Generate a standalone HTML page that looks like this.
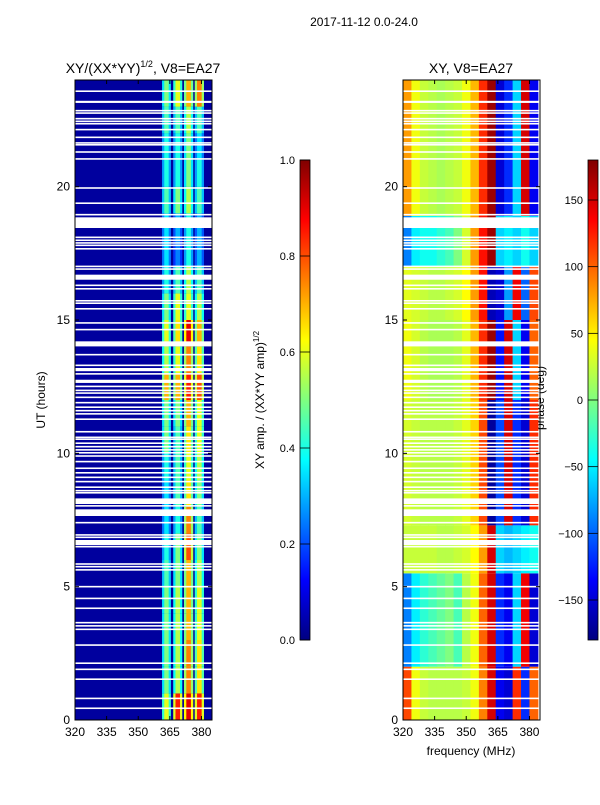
<!DOCTYPE html>
<html><head><meta charset="utf-8"><style>
body{margin:0;background:#fff;width:600px;height:800px;overflow:hidden}
svg{font-family:"Liberation Sans",sans-serif}
</style></head><body>
<svg id="fig" width="600" height="800">
<text x="364" y="26" font-size="12" text-anchor="middle">2017-11-12 0.0-24.0</text>
<text x="143" y="73" font-size="14" text-anchor="middle">XY/(XX*YY)<tspan dy="-6" font-size="9">1/2</tspan><tspan dy="6">, V8=EA27</tspan></text>
<text x="471" y="73" font-size="14" text-anchor="middle">XY, V8=EA27</text>
<text x="471" y="755" font-size="12" text-anchor="middle">frequency (MHz)</text>
<text transform="translate(45,400) rotate(-90)" font-size="12" text-anchor="middle">UT (hours)</text>
<text transform="translate(264,400) rotate(-90)" font-size="12" text-anchor="middle">XY amp. / (XX*YY amp)<tspan dy="-5" font-size="8">1/2</tspan></text>
<text transform="translate(544,398) rotate(-90)" font-size="12" text-anchor="middle">phase (deg)</text>
<g id="left"></g><g id="right"></g><g id="cb"></g>
</svg>
<script>
// ---- data ----
const hours = [0,1,2,3,4,5,6,7,8,9,10,11,12,13,14,15,16,17,18,19,20,21,22,23];
// amplitude of the four bright stripes per hour
const stripe1 = [0.6,0.5,0.5,0.5,0.5,0.45,0.4,0.35,0.35,0.4,0.5,0.5,0.7,0.55,0.6,0.5,0.4,0.35,0.35,0.45,0.4,0.4,0.45,0.5];
const stripe2 = [0.85,0.55,0.55,0.55,0.55,0.5,0.5,0.4,0.45,0.45,0.45,0.5,0.7,0.6,0.65,0.6,0.45,0.25,0.3,0.5,0.4,0.4,0.45,0.6];
const stripe3 = [0.9,0.75,0.75,0.7,0.7,0.7,0.8,0.75,0.65,0.6,0.65,0.7,0.85,0.75,0.9,0.6,0.55,0.4,0.4,0.55,0.5,0.5,0.55,0.7];
const stripe4 = [0.85,0.65,0.65,0.6,0.6,0.55,0.5,0.45,0.5,0.55,0.6,0.6,0.8,0.65,0.7,0.55,0.45,0.3,0.3,0.45,0.4,0.35,0.45,0.75];
const stripeFreqs = [[361.3,365.5],[366.6,370.9],[371.7,376.1],[376.8,381.2]];
const ampBackground = 0.03;
// phase segments
const phaseSegStart = [0,2,5.5,7.3,12,15,17,18.9];
const phaseSegEnd   = [2,5.5,7.3,12,15,17,18.9,24];
const phaseFreqs = [320,324,328,332,336,340,344,348,352,356,360,364,368,372,376,380];
const phaseA = [110,40,25,20,20,20,20,25,40,90,150,-140,-150,120,-120,100];
const phaseB = [-90,-50,-30,-20,-10,0,-20,20,40,100,150,-120,-140,-60,140,-150];
const phaseC = [25,25,25,25,20,20,25,30,45,80,150,-60,-70,-60,-50,-40];
const phaseD = [30,25,20,20,20,20,25,35,60,110,-170,-110,150,-120,-150,120];
const phaseE = [40,30,20,15,15,15,20,35,70,120,170,-130,150,-60,-140,100];
const phaseF = [35,30,25,20,20,25,30,45,80,130,-160,-150,-80,140,-100,110];
const phaseG = [-90,-50,-40,-40,-30,-20,0,30,80,130,170,-60,-50,-60,-40,-60];
const phaseH = [80,40,25,20,15,20,25,40,70,120,170,-150,-120,-60,150,-140];
const phaseSegs = [phaseA,phaseB,phaseC,phaseD,phaseE,phaseF,phaseG,phaseH];
// flagged (white) rows: UT start & width in hours
const gapStart = [23.55,23.14,22.82,22.73,22.52,22.42,22.33,22.11,21.82,21.61,21.54,21.27,21.01,19.92,19.35,18.92,18.45,18.07,17.96,17.86,17.77,17.64,16.98,16.88,16.51,16.27,16.14,15.69,15.6,15.39,14.86,14.61,14.01,13.67,13.27,13.08,12.95,12.64,12.48,12.33,12.23,12.07,11.87,11.7,11.57,11.45,11.25,10.78,10.57,10.5,10.35,10.22,10.1,9.99,9.87,9.66,9.41,9.24,9.07,8.91,8.7,8.57,8.49,8.1,8.0,7.65,7.37,6.91,6.82,6.56,6.47,5.82,5.72,5.6,4.97,4.53,4.16,3.62,3.5,3.37,2.78,2.1,1.87,1.5,0.78,0.41];
const gapWidth = [0.06,0.08,0.06,0.06,0.06,0.06,0.06,0.06,0.06,0.06,0.06,0.06,0.06,0.06,0.06,0.06,0.4,0.06,0.06,0.06,0.06,0.06,0.06,0.06,0.19,0.06,0.06,0.06,0.06,0.06,0.06,0.06,0.19,0.06,0.06,0.12,0.06,0.12,0.06,0.06,0.06,0.06,0.06,0.06,0.06,0.06,0.06,0.06,0.06,0.06,0.06,0.06,0.06,0.06,0.06,0.06,0.06,0.06,0.06,0.06,0.06,0.06,0.06,0.21,0.06,0.25,0.06,0.06,0.06,0.19,0.06,0.06,0.06,0.06,0.06,0.06,0.06,0.06,0.06,0.06,0.06,0.06,0.06,0.06,0.06,0.06];
const xTicks = [320,335,350,365,380];
const yTicks = [0,5,10,15,20];
const ampTicks = [0.0,0.2,0.4,0.6,0.8,1.0];
const phaseTicks = [-150,-100,-50,0,50,100,150];

// ---- helpers ----
const NS='http://www.w3.org/2000/svg';
function jet(v){v=Math.max(0,Math.min(1,v));
 const r=Math.max(0,Math.min(1,1.5-Math.abs(4*v-3))),g=Math.max(0,Math.min(1,1.5-Math.abs(4*v-2))),b=Math.max(0,Math.min(1,1.5-Math.abs(4*v-1)));
 return `rgb(${Math.round(r*255)},${Math.round(g*255)},${Math.round(b*255)})`;}
function mk(tag,attrs,parent){const e=document.createElementNS(NS,tag);for(const k in attrs)e.setAttribute(k,attrs[k]);parent.appendChild(e);return e;}
const Y0=80,Y1=720,yScale=ut=>Y1-(ut/24)*(Y1-Y0);
function xScaleL(f){return 75+(f-320)*(212-75)/65;}
function xScaleR(f){return 403+(f-320)*(540-403)/65;}

function axes(g,xs,x0,x1,prefix){
 const lbls=mk('g',{},g);
 xTicks.forEach(t=>{const x=xs(t);
  mk('line',{x1:x,x2:x,y1:Y1,y2:Y1-4,stroke:'#000'},g);
  mk('line',{x1:x,x2:x,y1:Y0,y2:Y0+4,stroke:'#000'},g);
  const tx=mk('text',{x:x,y:Y1+16,'font-size':12,'text-anchor':'middle'},lbls);tx.textContent=t;
  
  });
 yTicks.forEach(t=>{const y=yScale(t);
  mk('line',{x1:x0,x2:x0+4,y1:y,y2:y,stroke:'#000'},g);
  mk('line',{x1:x1,x2:x1-4,y1:y,y2:y,stroke:'#000'},g);
  const tx=mk('text',{x:x0-5,y:y+4,'font-size':12,'text-anchor':'end'},lbls);tx.textContent=t;
  
  });
 const fr=mk('rect',{x:x0,y:Y0,width:x1-x0,height:Y1-Y0,fill:'none',stroke:'#000','stroke-width':1},g);
 
 
}
function gaps(g,x0,x1){
 gapStart.forEach((s,i)=>{const r=mk('rect',{x:x0,y:yScale(s+gapWidth[i]),width:x1-x0,height:yScale(s)-yScale(s+gapWidth[i]),fill:'#fff'},g);
  
  });
}

// ---- left amplitude panel ----
const L=document.getElementById('left');


const bg=mk('rect',{x:75,y:Y0,width:137,height:Y1-Y0,fill:jet(ampBackground)},L);


const stripes=[stripe1,stripe2,stripe3,stripe4];
hours.forEach((h,i)=>{
 stripes.forEach((arr,s)=>{const fr=stripeFreqs[s];const xa=xScaleL(fr[0]),xb=xScaleL(fr[1]);const v=arr[i];
  const yt=yScale(h+1),yb=yScale(h);
  const c1=mk('rect',{x:xa,y:yt,width:(xb-xa),height:yb-yt,fill:jet(v*0.7)},L);
  
  
  const c2=mk('rect',{x:xa+(xb-xa)*0.25,y:yt,width:(xb-xa)*0.5,height:yb-yt,fill:jet(v)},L);
  
  });
});
gaps(L,75,212);
axes(L,xScaleL,75,212,'left');

// ---- right phase panel ----
const R=document.getElementById('right');


const df=phaseFreqs[1]-phaseFreqs[0];
phaseSegs.forEach((seg,si)=>{
 const yt=yScale(phaseSegEnd[si]),yb=yScale(phaseSegStart[si]);
 seg.forEach((p,ci)=>{const xa=xScaleR(phaseFreqs[ci]);const xb=Math.min(540,xScaleR(phaseFreqs[ci]+df));
  const r=mk('rect',{x:xa,y:yt,width:xb-xa+0.5,height:yb-yt,fill:jet((p+180)/360)},R);
  
  });
});
gaps(R,403,540);
axes(R,xScaleR,403,540,'right');

// ---- colorbars ----
const CB=document.getElementById('cb');
const defs=mk('defs',{},CB);
const gr=mk('linearGradient',{id:'jetg',x1:0,y1:1,x2:0,y2:0},defs);
[0,0.125,0.375,0.625,0.875,1].forEach(o=>mk('stop',{offset:o,'stop-color':jet(o)},gr));
function colorbar(x,ticks,lo,hi,name){
 const r=mk('rect',{x:x,y:160,width:10,height:480,fill:'url(#jetg)',stroke:'#000','stroke-width':0.8},CB);
 
 
 ticks.forEach(t=>{const y=640-(t-lo)/(hi-lo)*480;
  mk('line',{x1:x,x2:x+10,y1:y,y2:y,stroke:'#000','stroke-width':0.8},CB);
  const tx=mk('text',{x:x-5,y:y+4,'font-size':11,'text-anchor':'end'},CB);
  tx.textContent=(t<0?'\u2212'+(-t):(name==='amp-colorbar'?t.toFixed(1):t));
  
  });
}
colorbar(300,ampTicks,0,1,'amp-colorbar');
colorbar(588,phaseTicks,-180,180,'phase-colorbar');
</script>
</body></html>
